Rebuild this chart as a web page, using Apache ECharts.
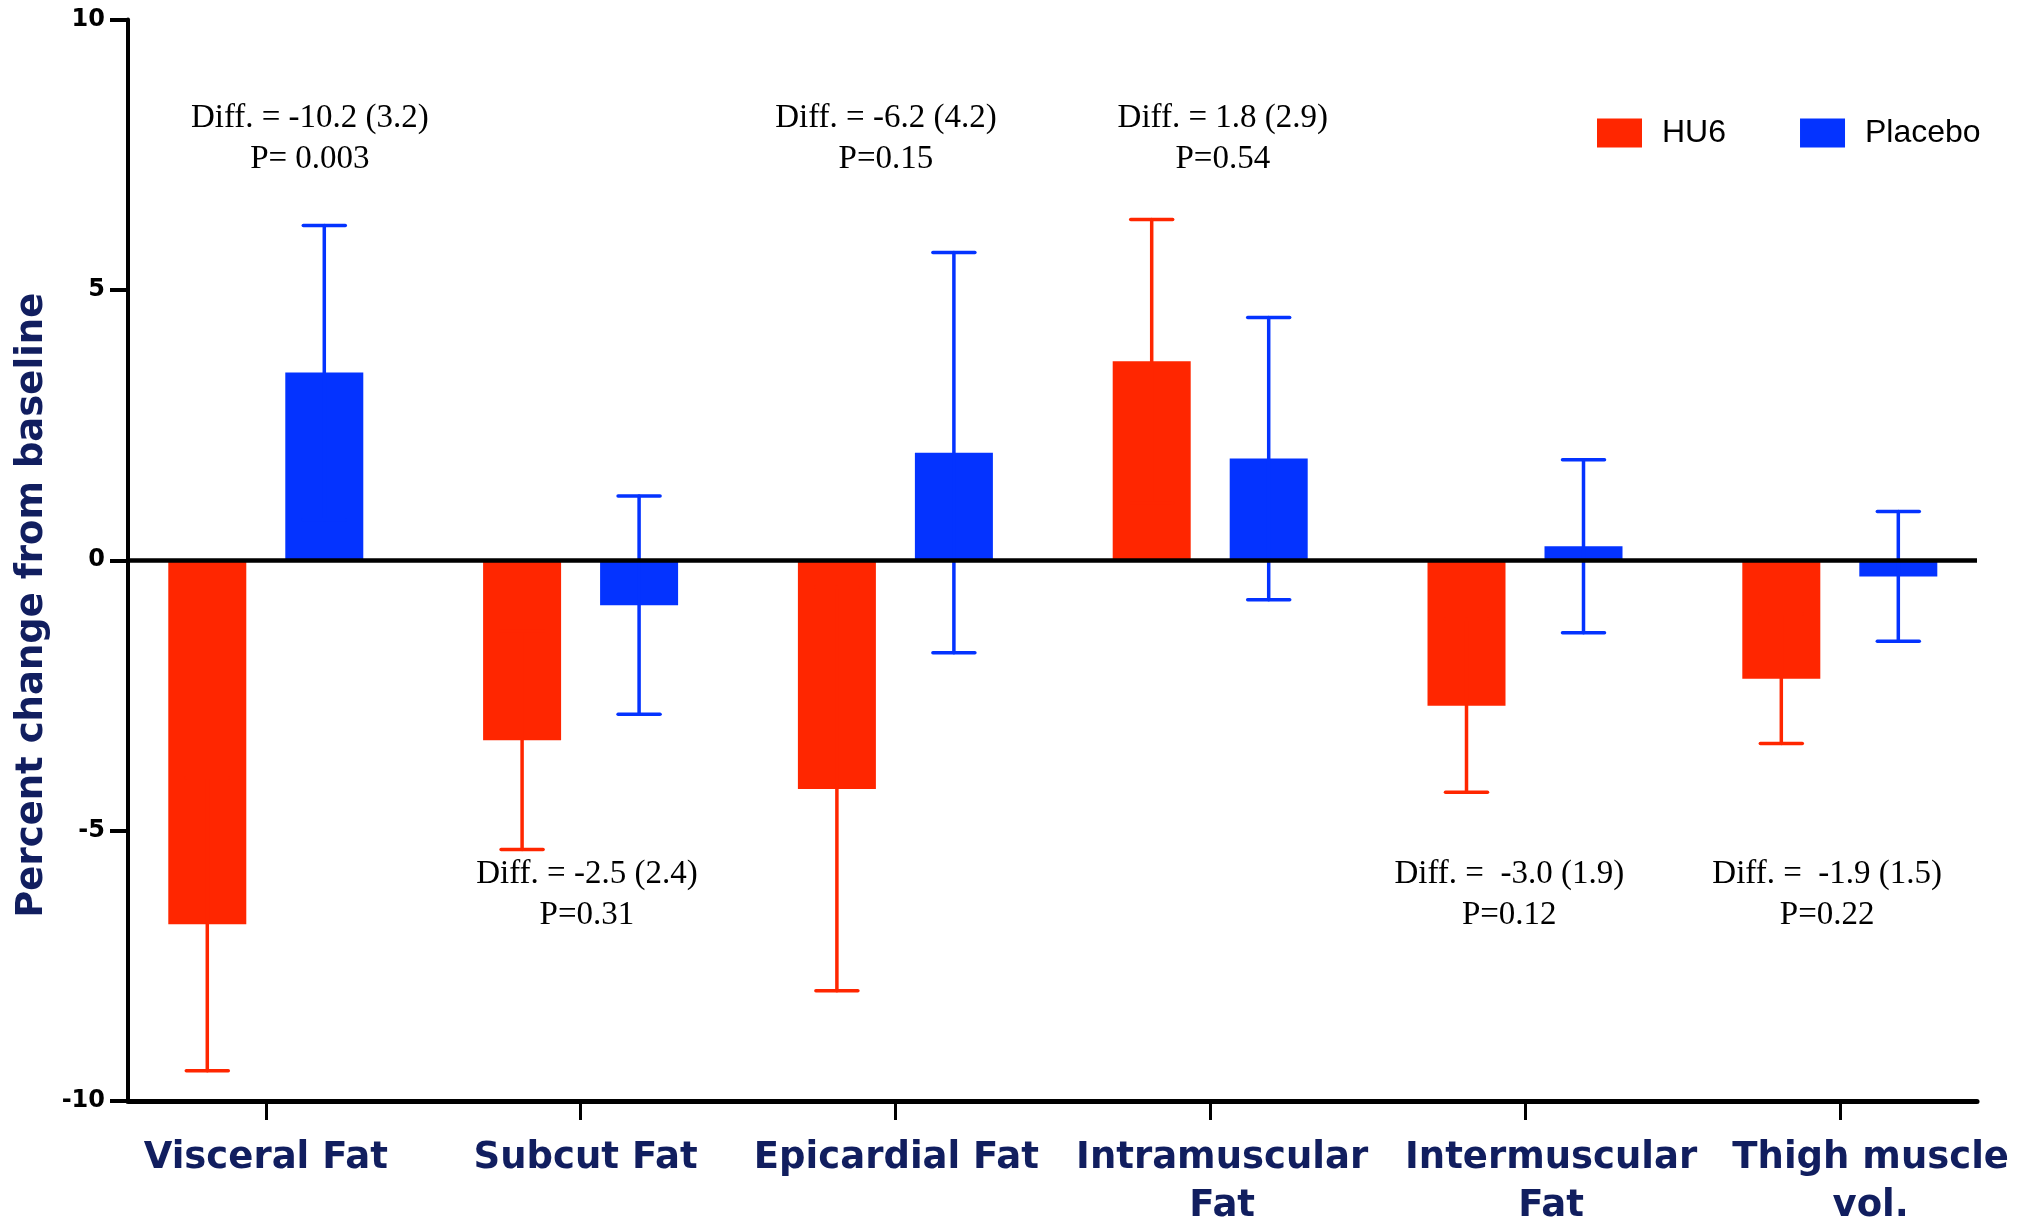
<!DOCTYPE html>
<html>
<head>
<meta charset="utf-8">
<script src="https://cdn.jsdelivr.net/npm/echarts@6/dist/echarts.min.js"></script>
<style>
html,body{margin:0;padding:0;background:#fff;}
#chart{width:2026px;height:1220px;}
</style>
</head>
<body>
<div id="chart"></div>
<script>
// ---- data ----
const categories = ['Visceral Fat', 'Subcut Fat', 'Epicardial Fat', 'Intramuscular\nFat', 'Intermuscular\nFat', 'Thigh muscle\nvol.'];
const hu6Mean = [-6.73, -3.33, -4.23, 3.68, -2.69, -2.19];
const hu6Err = [2.71, 2.02, 3.73, 2.62, 1.60, 1.20];
const placeboMean = [3.47, -0.83, 1.99, 1.88, 0.26, -0.30];
const placeboErr = [2.72, 2.02, 3.70, 2.61, 1.60, 1.20];
const yTicks = [-10, -5, 0, 5, 10];
const diffText = ['Diff. = -10.2 (3.2)', 'Diff. = -2.5 (2.4)', 'Diff. = -6.2 (4.2)', 'Diff. = 1.8 (2.9)', 'Diff. =  -3.0 (1.9)', 'Diff. =  -1.9 (1.5)'];
const pText = ['P= 0.003', 'P=0.31', 'P=0.15', 'P=0.54', 'P=0.12', 'P=0.22'];
const annotY = [7.79, -6.18, 7.79, 7.79, -6.18, -6.18];

// ---- layout / style ----
const annotShift = [0.14, 0.02, -0.03, 0.04, -0.05, -0.04];
const labelShift = [0, 0.016, 0.003, 0.038, 0.083, 0.098];
const RED = '#FF2600', BLUE = '#0433FF', NAVY = '#111E5F';
const BAR_W = 78, BAR_OFF = 58.5, CAP_W = 42;
const catIdx = categories.map((c, i) => i);
const labelPos = catIdx.map(i => i + labelShift[i]);

function barRender(color, off) {
  return function (params, api) {
    const i = api.value(0), v = api.value(1);
    const p = api.coord([i, v]);
    const p0 = api.coord([i, 0]);
    return {
      type: 'rect',
      shape: { x: p[0] + off - BAR_W / 2, y: Math.min(p[1], p0[1]), width: BAR_W, height: Math.abs(p[1] - p0[1]) },
      style: { fill: color }
    };
  };
}
function errRender(color, off) {
  return function (params, api) {
    const i = api.value(0), v = api.value(1), e = api.value(2);
    const t = api.coord([i, v + e]);
    const b = api.coord([i, v - e]);
    const x = t[0] + off;
    const st = { stroke: color, lineWidth: 3.5, lineCap: 'round' };
    return {
      type: 'group',
      children: [
        { type: 'line', shape: { x1: x, y1: t[1], x2: x, y2: b[1] }, style: st },
        { type: 'line', shape: { x1: x - CAP_W / 2, y1: t[1], x2: x + CAP_W / 2, y2: t[1] }, style: st },
        { type: 'line', shape: { x1: x - CAP_W / 2, y1: b[1], x2: x + CAP_W / 2, y2: b[1] }, style: st }
      ]
    };
  };
}
function annotRender(params, api) {
  const i = api.value(0);
  const p = api.coord([i + annotShift[i], api.value(1)]);
  return {
    type: 'text',
    x: p[0], y: p[1],
    style: {
      text: diffText[i] + '\n' + pText[i],
      fontFamily: '"Liberation Serif", "Times New Roman", serif',
      fontSize: 33, lineHeight: 41, fill: '#000',
      align: 'center', verticalAlign: 'middle'
    }
  };
}

const chart = echarts.init(document.getElementById('chart'), null, { renderer: 'canvas' });
chart.setOption({
  animation: false,
  backgroundColor: '#fff',
  grid: { left: 128, right: 49, top: 19.5, bottom: 119, containLabel: false, outerBoundsMode: 'none' },
  legend: {
    left: 1597, top: 117, padding: 0, itemGap: 74, itemWidth: 45, itemHeight: 29,
    selectedMode: false,
    textStyle: { fontFamily: '"Liberation Sans", Arial, sans-serif', fontSize: 32, color: '#000', padding: [0, 0, 0, 15] },
    data: [
      { name: 'HU6', icon: 'rect', itemStyle: { color: RED } },
      { name: 'Placebo', icon: 'rect', itemStyle: { color: BLUE } }
    ]
  },
  xAxis: {
    type: 'value', min: -0.4377, max: 5.4358,
    splitLine: { show: false },
    axisLine: { show: true, onZero: false, lineStyle: { color: '#000', width: 5 } },
    axisTick: { show: true, length: 19, customValues: catIdx, lineStyle: { color: '#000', width: 3 } },
    axisLabel: {
      customValues: labelPos, margin: 33, hideOverlap: false,
      formatter: v => categories[Math.round(v)] || '',
      fontFamily: '"DejaVu Sans", Verdana, sans-serif', fontWeight: 'bold', fontSize: 37, lineHeight: 48,
      color: NAVY, verticalAlign: 'top'
    }
  },
  yAxis: {
    type: 'value', min: yTicks[0], max: yTicks[yTicks.length - 1], interval: 5,
    splitLine: { show: false },
    axisLine: { show: true, onZero: false, lineStyle: { color: '#000', width: 4 } },
    axisTick: { show: true, length: 18, lineStyle: { color: '#000', width: 4 } },
    axisLabel: { margin: 23, fontFamily: '"DejaVu Sans", Verdana, sans-serif', fontWeight: 'bold', fontSize: 24, color: '#000' },
    name: 'Percent change from baseline', nameLocation: 'middle', nameRotate: 90, nameGap: 75,
    nameTextStyle: { fontFamily: '"DejaVu Sans", Verdana, sans-serif', fontWeight: 'bold', fontSize: 37, color: NAVY, padding: [0, 90, 0, 0] }
  },
  series: [
    {
      name: 'HU6', type: 'custom', z: 2, itemStyle: { color: RED },
      renderItem: barRender(RED, -BAR_OFF), encode: { x: 0, y: 1 },
      data: hu6Mean.map((v, i) => [i, v]),
      markLine: { silent: true, symbol: 'none', label: { show: false }, lineStyle: { color: '#000', width: 4.5, type: 'solid' }, data: [{ yAxis: 0 }] }
    },
    {
      name: 'Placebo', type: 'custom', z: 2, itemStyle: { color: BLUE },
      renderItem: barRender(BLUE, BAR_OFF), encode: { x: 0, y: 1 },
      data: placeboMean.map((v, i) => [i, v])
    },
    {
      name: 'HU6 err', type: 'custom', z: 4,
      renderItem: errRender(RED, -BAR_OFF), encode: { x: 0, y: 1 },
      data: hu6Mean.map((v, i) => [i, v, hu6Err[i]])
    },
    {
      name: 'Placebo err', type: 'custom', z: 4,
      renderItem: errRender(BLUE, BAR_OFF), encode: { x: 0, y: 1 },
      data: placeboMean.map((v, i) => [i, v, placeboErr[i]])
    },
    {
      name: 'annotations', type: 'custom', z: 5, silent: true,
      renderItem: annotRender, encode: { x: 0, y: 1 },
      data: annotY.map((v, i) => [i, v])
    }
  ]
});
</script>
</body>
</html>
